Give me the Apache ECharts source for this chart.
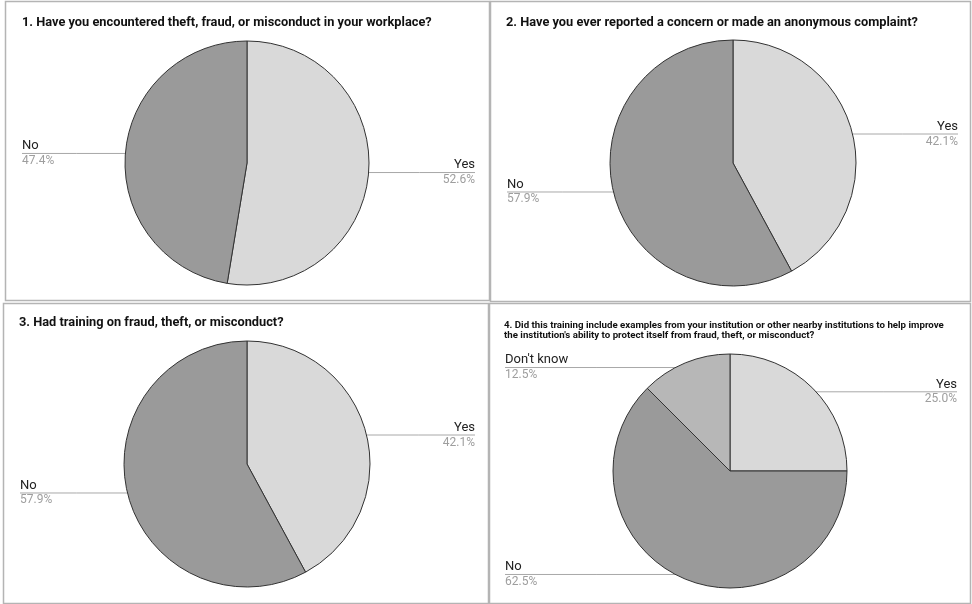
<!DOCTYPE html>
<html><head><meta charset="utf-8">
<script src="https://cdn.jsdelivr.net/npm/echarts@6/dist/echarts.min.js"></script>
<style>html,body{margin:0;padding:0;background:#fff}#c{width:972px;height:604px}</style>
</head><body><div id="c"></div>
<script>
// ---- data ----
const titles = [
  '1. Have you encountered theft, fraud, or misconduct in your workplace?',
  '2. Have you ever reported a concern or made an anonymous complaint?',
  '3. Had training on fraud, theft, or misconduct?',
  "4. Did this training include examples from your institution or other nearby institutions to help improve\nthe institution's ability to protect itself from fraud, theft, or misconduct?"
];
const q1Names = ['Yes', 'No'];
const q1Values = [52.6, 47.4];
const q2Names = ['Yes', 'No'];
const q2Values = [42.1, 57.9];
const q3Names = ['Yes', 'No'];
const q3Values = [42.1, 57.9];
const q4Names = ['Yes', 'No', "Don't know"];
const q4Values = [25.0, 62.5, 12.5];

// ---- layout ----
const sliceColors = { 'Yes': '#d9d9d9', 'No': '#9a9a9a', "Don't know": '#b7b7b7' };
const panels = [
  { rect: [5, 1, 484, 299], center: [247, 163], r: 122, left: 22, right: 475, titleX: 22, titleY: 15, fs: 12.8 },
  { rect: [490, 1, 480, 300], center: [733, 163], r: 123, left: 507, right: 958, titleX: 506, titleY: 15, fs: 12.8 },
  { rect: [3, 303, 485, 300], center: [247, 464], r: 123, left: 20, right: 475, titleX: 19, titleY: 315, fs: 12.8 },
  { rect: [489, 303, 481, 300], center: [730, 471], r: 117, left: 505, right: 957, titleX: 504, titleY: 321, fs: 9.7 }
];
const names = [q1Names, q2Names, q3Names, q4Names];
const values = [q1Values, q2Values, q3Values, q4Values];

const chart = echarts.init(document.getElementById('c'), null, { renderer: 'canvas' });

const series = panels.map((p, i) => ({
  type: 'pie',
  center: p.center,
  radius: p.r,
  startAngle: 90,
  clockwise: true,
  avoidLabelOverlap: false,
  animation: false,
  emphasis: { disabled: true },
  itemStyle: { borderColor: '#333', borderWidth: 1 },
  data: names[i].map((n, k) => ({ name: n, value: values[i][k], itemStyle: { color: sliceColors[n] } })),
  label: {
    show: true,
    position: 'outside',
    formatter: (prm) => '{n|' + prm.name + '}\n{p|' + prm.value.toFixed(1) + '%}',
    rich: {
      n: { fontFamily: 'Roboto', fontSize: 13, color: '#222', lineHeight: 15 },
      p: { fontFamily: 'Roboto', fontSize: 12, color: '#9e9e9e', lineHeight: 15 }
    }
  },
  labelLine: { show: true, length: 10, length2: 10, smooth: false, lineStyle: { color: '#a8a8a8', width: 1 } },
  labelLayout: (params) => {
    const pts = params.labelLinePoints;
    if (!pts) return {};
    const c = p.center;
    const p0 = pts[0];
    const dx = p0[0] - c[0], dy = p0[1] - c[1];
    const len = Math.sqrt(dx * dx + dy * dy) || 1;
    const pin = [p0[0] - dx / len * 5, p0[1] - dy / len * 5];
    const isLeft = dx < 0;
    const edge = isLeft ? p.left : p.right;
    const y = pin[1];
    return {
      x: edge,
      y: y,
      align: isLeft ? 'left' : 'right',
      verticalAlign: 'middle',
      labelLinePoints: [pin, [(pin[0] + edge) / 2, y], [edge, y]]
    };
  }
}));

const option = {
  backgroundColor: '#ffffff',
  animation: false,
  graphic: panels.map(p => ({
    type: 'rect',
    silent: true,
    z: -10,
    shape: { x: p.rect[0] + 0.5, y: p.rect[1] + 0.5, width: p.rect[2], height: p.rect[3] },
    style: { fill: '#fff', stroke: '#b4b4b4', lineWidth: 1.5 }
  })),
  title: panels.map((p, i) => ({
    text: titles[i],
    left: p.titleX,
    top: p.titleY,
    padding: 0,
    textStyle: { fontFamily: 'Roboto', fontWeight: 'bold', fontSize: p.fs, color: '#111', lineHeight: p.fs < 11 ? 10 : 16 }
  })),
  series: series
};
chart.setOption(option);
</script>
</body></html>
